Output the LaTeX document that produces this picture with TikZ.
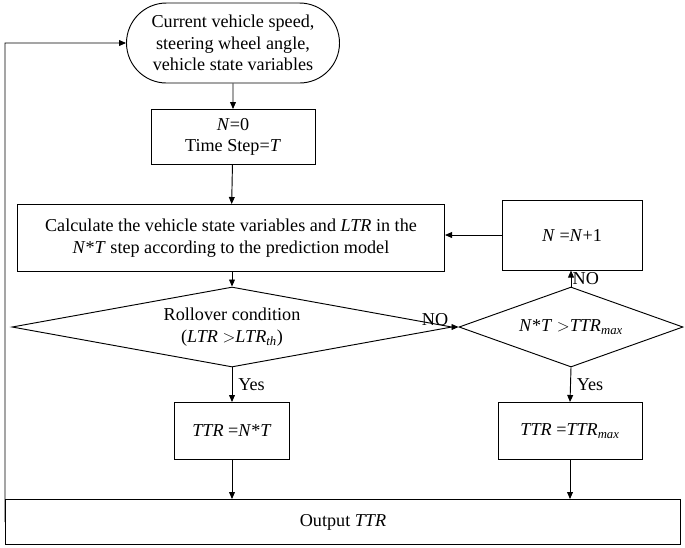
\documentclass[tikz,border=0pt]{standalone}
\usepackage{fontspec}
\setmainfont{Liberation Serif}
\usetikzlibrary{shapes.geometric,shapes.misc,arrows.meta}
\begin{document}
\begin{tikzpicture}[x=0.03cm,y=-0.03cm,
  every node/.style={font=\fontsize{15.5}{18.5}\selectfont},
  box/.style={draw,thick,align=center,inner sep=0pt},
  dia/.style={draw,thick,diamond,align=center,inner sep=0pt},
  txt/.style={align=center,inner sep=0pt},
  arr/.style={thick,-{Triangle[length=6pt,width=5pt]}},
  lab/.style={draw=none,inner sep=1pt}]
\useasboundingbox (0,0) rectangle (685,547);
\node[box,rounded rectangle,minimum width=213*0.03cm,minimum height=80*0.03cm] (start) at (233,43) {Current vehicle speed,\\steering wheel angle,\\vehicle state variables};
\node[box,minimum width=164*0.03cm,minimum height=55*0.03cm] (init) at (233,137) {\textit{N}=0\\Time Step=\textit{T}};
\node[box,minimum width=427*0.03cm,minimum height=67*0.03cm] (calc) at (231,238) {Calculate the vehicle state variables and \textit{LTR} in the\\\textit{N}*\textit{T} step according to the prediction model};
\node[dia,minimum width=440*0.03cm,minimum height=80*0.03cm,aspect=5.5] (roll) at (232,327) {};
\node[txt] (rolltxt) at (232,327) {Rollover condition\\(\textit{LTR} $>$\textit{LTR\textsubscript{th}})};
\node[dia,minimum width=224*0.03cm,minimum height=80*0.03cm,aspect=2.8] (cmp) at (571,327) {};
\node[txt] (cmptxt) at (571,327) {\textit{N}*\textit{T} $>$\textit{TTR\textsubscript{max}}};
\node[box,minimum width=140*0.03cm,minimum height=70*0.03cm] (inc) at (572,235) {\textit{N} =\textit{N}+1};
\node[box,minimum width=115*0.03cm,minimum height=57*0.03cm] (t1) at (232,431) {\textit{TTR} =\textit{N}*\textit{T}};
\node[box,minimum width=144*0.03cm,minimum height=57*0.03cm] (t2) at (570,431) {\textit{TTR} =\textit{TTR\textsubscript{max}}};
\node[box,minimum width=675*0.03cm,minimum height=45*0.03cm] (out) at (343,522) {Output \textit{TTR}};
\node[lab] (nolab) at (435,320) {NO};
\draw[arr] (start) -- (init);
\draw[arr] (init) -- (calc);
\draw[arr] (calc.south -| roll.north) -- (roll.north);
\draw[arr] (roll.east) -- (cmp.west);
\draw[arr] (cmp.north) -- (cmp.north |- inc.south) node[lab,midway,right] {NO};
\draw[arr] (inc.west) -- (inc.west -| calc.east);
\draw[arr] (roll.south) -- (t1.north) node[lab,midway,right,xshift=4pt] {Yes};
\draw[arr] (cmp.south) -- (t2.north) node[lab,midway,right,xshift=4pt] {Yes};
\draw[arr] (t1.south) -- (t1.south |- out.north);
\draw[arr] (t2.south) -- (t2.south |- out.north);
\coordinate (c2) at (5,43);
\draw[arr] (out.west) -- (c2) -- (start.west);
\end{tikzpicture}
\end{document}
